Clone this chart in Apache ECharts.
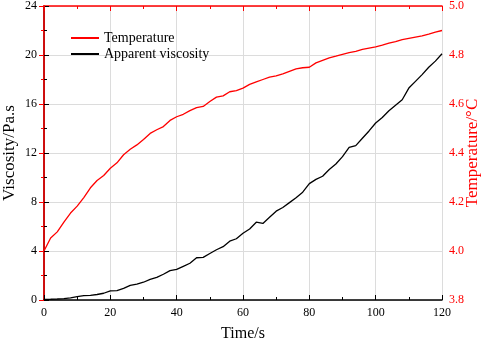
<!DOCTYPE html>
<html>
<head>
<meta charset="utf-8">
<script src="https://cdn.jsdelivr.net/npm/echarts@6/dist/echarts.min.js"></script>
<style>html,body{margin:0;padding:0;background:#fff}#c{width:484px;height:340px}</style>
</head>
<body>
<div id="c"></div>
<script>
var time = [];
for (var i = 0; i <= 60; i++) time.push(i * 2);
var temperature = [4.000,4.053,4.078,4.118,4.155,4.183,4.218,4.258,4.288,4.308,4.338,4.360,4.393,4.415,4.433,4.455,4.480,4.495,4.508,4.533,4.548,4.558,4.573,4.585,4.590,4.610,4.628,4.633,4.650,4.655,4.665,4.680,4.690,4.700,4.710,4.715,4.723,4.733,4.743,4.748,4.750,4.768,4.778,4.788,4.795,4.803,4.810,4.815,4.823,4.828,4.833,4.840,4.848,4.855,4.863,4.868,4.873,4.878,4.885,4.893,4.900];
var viscosity = [0.05,0.06,0.08,0.12,0.18,0.27,0.36,0.38,0.45,0.55,0.75,0.77,0.95,1.2,1.3,1.45,1.68,1.85,2.1,2.4,2.5,2.75,3.0,3.45,3.48,3.8,4.1,4.35,4.8,5.0,5.45,5.8,6.35,6.25,6.75,7.25,7.55,7.95,8.35,8.8,9.5,9.85,10.1,10.65,11.1,11.7,12.45,12.6,13.2,13.8,14.45,14.9,15.45,15.9,16.35,17.3,17.85,18.4,19.0,19.5,20.1];
var seriesNames = ['Temperature', 'Apparent viscosity'];

var font = 'Liberation Serif';
var chart = echarts.init(document.getElementById('c'), null, {renderer: 'canvas'});
function pairs(ys) { return time.map(function (t, i) { return [t, ys[i]]; }); }
chart.setOption({
  animation: false,
  textStyle: {fontFamily: font},
  grid: {left: 44, right: 42, top: 6, bottom: 40, containLabel: false, outerBoundsMode: 'none'},
  legend: {
    orient: 'vertical', left: 70, top: 31, padding: 0, itemWidth: 28, itemHeight: 14, itemGap: 2,
    itemStyle: {opacity: 0},
    textStyle: {fontFamily: font, fontSize: 14, color: '#000'},
    data: seriesNames
  },
  xAxis: [{
    type: 'value', min: 0, max: 120, interval: 20, position: 'bottom',
    name: 'Time/s', nameLocation: 'middle', nameGap: 26,
    nameTextStyle: {fontFamily: font, fontSize: 16, color: '#000'},
    axisLine: {lineStyle: {color: '#000', width: 1.5}},
    axisTick: {inside: true, length: 5, lineStyle: {color: '#000'}},
    minorTick: {show: true, splitNumber: 2, length: 3, lineStyle: {color: '#000'}},
    axisLabel: {fontFamily: font, fontSize: 12, color: '#000', margin: 7},
    splitLine: {show: true, lineStyle: {color: '#dcdcdc'}}
  }, {
    type: 'value', min: 0, max: 120, interval: 20, position: 'top',
    axisLine: {lineStyle: {color: '#ff0000', width: 1.5}},
    axisTick: {inside: true, length: 5, lineStyle: {color: '#ff0000'}},
    minorTick: {show: true, splitNumber: 2, length: 3, lineStyle: {color: '#ff0000'}},
    axisLabel: {show: false},
    splitLine: {show: false}
  }],
  yAxis: [{
    type: 'value', min: 0, max: 24, interval: 4, position: 'left',
    name: 'Viscosity/Pa.s', nameLocation: 'middle', nameGap: 34, nameMoveOverlap: false,
    nameTextStyle: {fontFamily: font, fontSize: 17, color: '#000', align: 'center', verticalAlign: 'middle'},
    axisLine: {show: true, lineStyle: {color: '#000', width: 1.5}},
    axisTick: {show: true, inside: true, length: 5, lineStyle: {color: '#000'}},
    minorTick: {show: true, splitNumber: 2, length: 3, lineStyle: {color: '#000'}},
    axisLabel: {fontFamily: font, fontSize: 12, color: '#000', margin: 7},
    splitLine: {show: true, lineStyle: {color: '#dcdcdc'}}
  }, {
    type: 'value', min: 3.8, max: 5.0, interval: 0.2, position: 'right',
    name: 'Temperature/\u00B0C', nameLocation: 'middle', nameGap: 31, nameRotate: 90,
    nameMoveOverlap: false,
    nameTextStyle: {fontFamily: font, fontSize: 17, color: '#ff0000', align: 'center', verticalAlign: 'middle'},
    axisLine: {show: true, lineStyle: {color: '#ff0000', width: 1.5}},
    axisTick: {show: true, inside: true, length: 5, lineStyle: {color: '#ff0000'}},
    minorTick: {show: true, splitNumber: 2, length: 3, lineStyle: {color: '#ff0000'}},
    axisLabel: {fontFamily: font, fontSize: 12, color: '#ff0000', margin: 7,
      formatter: function (v) { return v.toFixed(1); }},
    splitLine: {show: false}
  }],
  series: [{
    name: seriesNames[0], type: 'line', xAxisIndex: 0, yAxisIndex: 1,
    data: pairs(temperature), showSymbol: false, symbol: 'none',
    lineStyle: {color: '#ff0000', width: 1.3}, itemStyle: {color: '#ff0000'}
  }, {
    name: seriesNames[1], type: 'line', xAxisIndex: 0, yAxisIndex: 0,
    data: pairs(viscosity), showSymbol: false, symbol: 'none',
    lineStyle: {color: '#000', width: 1.3}, itemStyle: {color: '#000'}
  }]
});
</script>
</body>
</html>
